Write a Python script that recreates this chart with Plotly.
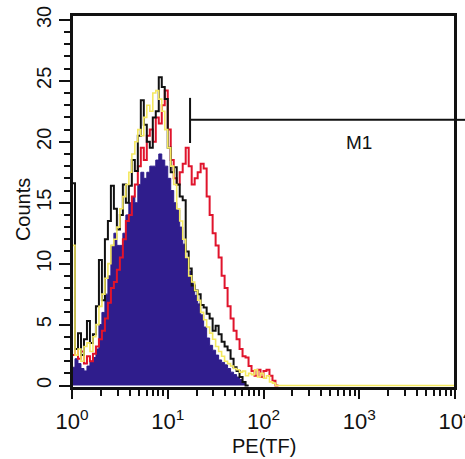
import math
import plotly.graph_objects as go

# ---- data (counts per channel, 32 channels per decade, starting at 10^0) ----
CHANNELS_PER_DECADE = 32

control_purple = [1.5, 2.2, 1.8, 1.4, 1.2, 1.6, 2.0, 2.3, 3.0, 5.0,
                  6.0, 7.5, 9.0, 11.5, 12.5, 11.5, 11.5, 12.5, 14.0, 15.0,
                  15.5, 15.0, 16.5, 17.5, 17.0, 17.5, 18.0, 18.0, 18.5, 19.0,
                  18.5, 18.0, 17.0, 16.0, 15.0, 14.4, 13.0, 11.6, 10.5, 9.4,
                  8.4, 7.4, 6.7, 5.8, 4.8, 3.9, 3.3, 2.9, 2.5, 2.1,
                  1.9, 1.7, 1.4, 1.1, 0.9, 0.7, 0.5, 0.3, 0.0]

sample_black = [16.6, 3.0, 4.3, 2.5, 3.8, 5.3, 3.5, 4.2, 6.5, 10.3,
                7.0, 12.0, 13.5, 16.4, 14.5, 12.8, 14.0, 16.5, 15.0, 16.4,
                18.5, 17.6, 20.5, 23.4, 21.4, 20.0, 19.5, 22.0, 22.5, 25.3,
                24.5, 23.5, 19.5, 17.5, 17.9, 16.5, 15.5, 15.2, 11.0, 9.6,
                8.2, 7.8, 7.5, 6.6, 6.4, 5.9, 5.5, 4.5, 4.9, 4.2,
                3.6, 3.2, 2.9, 2.2, 1.5, 1.2, 0.7, 0.3, 0.0]

sample_yellow = [11.5, 2.5, 3.0, 2.0, 3.2, 3.5, 2.8, 4.0, 5.0, 6.5,
                 7.5, 8.8, 10.0, 11.5, 12.0, 13.0, 14.5, 15.5, 16.5, 17.5,
                 19.0, 20.0, 21.0, 20.5, 22.0, 23.0, 22.5, 24.0, 24.2, 23.5,
                 22.5, 21.0, 19.5, 18.0, 16.5, 14.5, 13.5, 12.0, 10.5, 9.0,
                 8.5, 7.8, 7.0, 6.0, 5.4, 4.8, 4.3, 3.8, 3.2, 2.8,
                 2.4, 2.0, 1.8, 1.6, 1.4, 1.3, 1.1, 1.2, 0.8, 1.0,
                 0.9, 1.3, 0.7, 1.0, 0.6, 0.8, 0.3, 0.2, 0.0, 0.0,
                 0.0, 0.0, 0.0, 0.0, 0.0, 0.0, 0.0, 0.0, 0.0, 0.0,
                 0.0, 0.0, 0.0, 0.0, 0.0, 0.0, 0.0, 0.0, 0.0, 0.0,
                 0.0, 0.0, 0.0, 0.0, 0.0, 0.0, 0.0, 0.0, 0.0, 0.0,
                 0.0, 0.0, 0.0, 0.0, 0.0, 0.0, 0.0, 0.0, 0.0, 0.0,
                 0.0, 0.0, 0.0, 0.0, 0.0, 0.0, 0.0, 0.0, 0.0, 0.0,
                 0.0, 0.0, 0.0, 0.0, 0.0, 0.0, 0.0, 0.0]

sample_red = [2.5, 3.0, 2.2, 2.8, 1.8, 2.4, 2.0, 2.6, 3.2, 3.8,
              4.5, 5.5, 6.8, 8.0, 8.5, 9.5, 10.5, 12.0, 13.5, 14.0,
              15.5, 16.5, 18.0, 19.5, 18.5, 20.5, 21.0, 20.0, 22.0, 21.5,
              23.0, 24.2, 21.0, 18.5, 17.0, 16.5, 17.5, 18.2, 19.5, 18.0,
              16.5, 17.0, 17.5, 18.2, 17.8, 15.5, 14.0, 12.5, 11.5, 10.5,
              9.0, 8.0, 6.5, 5.5, 4.5, 3.8, 3.0, 2.4, 2.3, 1.6,
              1.2, 0.8, 1.3, 0.7, 1.2, 1.3, 0.8, 0.4, 0.0]

x_tick_vals = [1, 10, 100, 1000, 10000]
x_tick_text = ["10<sup>0</sup>", "10<sup>1</sup>", "10<sup>2</sup>",
               "10<sup>3</sup>", "10<sup>4</sup>"]
x_minor_vals = [k * 10 ** d for d in range(4) for k in range(2, 10)]
y_tick_vals = [0, 5, 10, 15, 20, 25, 30]

marker_label = "M1"
marker_low = 17.1          # left edge of the M1 gate
marker_high = 12000        # gate runs off the right edge
marker_level = 21.8        # height of the gate bar
marker_tick = [19.9, 23.6] # vertical extent of the gate end

x_title = "PE(TF)"
y_title = "Counts"

# ---- helpers ----
def step_xy(values):
    edges = [10 ** (i / CHANNELS_PER_DECADE) for i in range(len(values) + 1)]
    xs = [edges[0]] + edges
    ys = [0.0] + list(values) + [0.0]
    return xs, ys

FONT = "Liberation Sans Narrow, Arial Narrow, Liberation Sans, Arial, sans-serif"

fig = go.Figure()

xs, ys = step_xy(control_purple)
fig.add_trace(go.Scatter(x=xs, y=ys, mode="lines", line=dict(color="#2f1d8c", width=1, shape="hv"),
                         fill="tozeroy", fillcolor="#2f1d8c", showlegend=False, hoverinfo="skip"))
xs, ys = step_xy(sample_red)
fig.add_trace(go.Scatter(x=xs, y=ys, mode="lines", line=dict(color="#e0142c", width=2, shape="hv"),
                         showlegend=False, hoverinfo="skip"))
xs, ys = step_xy(sample_black)
fig.add_trace(go.Scatter(x=xs, y=ys, mode="lines", line=dict(color="#111111", width=2, shape="hv"),
                         showlegend=False, hoverinfo="skip"))
xs, ys = step_xy(sample_yellow)
fig.add_trace(go.Scatter(x=xs, y=ys, mode="lines", line=dict(color="#f4e860", width=1.6, shape="hv"),
                         showlegend=False, hoverinfo="skip"))

# M1 gate marker
fig.add_trace(go.Scatter(
    x=[marker_low, marker_low, None, marker_low, marker_high],
    y=[marker_tick[0], marker_tick[1], None, marker_level, marker_level],
    mode="lines", line=dict(color="#111111", width=2), showlegend=False, hoverinfo="skip"))
fig.add_shape(type="line", xref="paper", yref="y", x0=1.0, x1=1.03,
              y0=marker_level, y1=marker_level, line=dict(color="#111111", width=2))
fig.add_annotation(x=3.0, y=19.9, text=marker_label, showarrow=False,
                   font=dict(family="Liberation Sans, Arial, sans-serif", size=19, color="#111111"))

# plot frame
fig.add_shape(type="rect", xref="paper", yref="paper", x0=0, x1=1, y0=0, y1=1,
              line=dict(color="#111111", width=2), layer="above")

# axis titles
fig.add_annotation(xref="paper", yref="paper", x=0, y=0.477, xshift=-49,
                   text=y_title, textangle=-90, showarrow=False,
                   xanchor="center", yanchor="middle",
                   font=dict(family=FONT, size=20, color="#111111"))
fig.add_annotation(xref="paper", yref="paper", x=0.5, y=0, yshift=-58,
                   text=x_title, showarrow=False,
                   xanchor="center", yanchor="middle",
                   font=dict(family=FONT, size=20, color="#111111"))

fig.update_layout(
    width=465, height=459,
    margin=dict(l=72, r=10, t=15, b=71),
    paper_bgcolor="white", plot_bgcolor="white",
    font=dict(family=FONT, color="#111111", size=20),
)
fig.update_xaxes(
    type="log", range=[0, 4], automargin=False,
    showline=True, linecolor="#111111", linewidth=2, mirror=True,
    showgrid=False, zeroline=False,
    tickmode="array", tickvals=x_tick_vals, ticktext=x_tick_text,
    ticks="outside", ticklen=9, tickwidth=2, tickcolor="#111111",
    minor=dict(tickmode="array", tickvals=x_minor_vals, ticks="outside",
               ticklen=6, tickwidth=2, tickcolor="#111111", showgrid=False),
    tickfont=dict(family=FONT, size=22),
    ticklabeloverflow="allow",
    ticklabelstandoff=4,
)
fig.update_yaxes(
    range=[-0.2, 30.4], automargin=False,
    showline=True, linecolor="#111111", linewidth=2, mirror=True,
    showgrid=False, zeroline=False,
    tickmode="array", tickvals=y_tick_vals, tickangle=-90,
    ticks="outside", ticklen=11, tickwidth=2, tickcolor="#111111",
    minor=dict(dtick=1, ticks="outside", ticklen=6, tickwidth=2,
               tickcolor="#111111", showgrid=False),
    tickfont=dict(family=FONT, size=20),
    ticklabelstandoff=0,
)

fig.write_html("out.html", config={"displayModeBar": False},
               post_script="document.body.style.margin='0';document.body.style.padding='0';")
